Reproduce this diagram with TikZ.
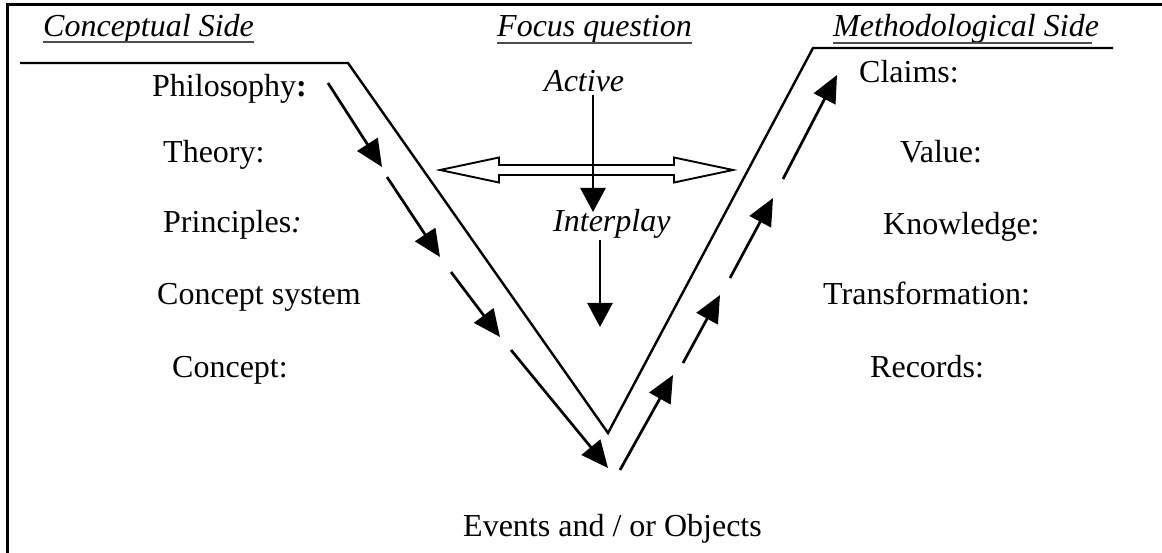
\documentclass[tikz,border=0pt]{standalone}
\usepackage{fontspec}
\setmainfont{Liberation Serif}
\usetikzlibrary{arrows.meta,calc}
\begin{document}
\begin{tikzpicture}[x=1pt,y=-1pt,
  lbl/.style={font=\fontsize{32}{38}\selectfont, inner sep=0pt, anchor=base west},
  ital/.style={lbl, font=\fontsize{32}{38}\selectfont\itshape},
  vline/.style={line width=2.4pt, line join=miter},
  darr/.style={line width=2.7pt, -{Triangle[length=27pt,width=24pt]}},
  varr/.style={line width=2.7pt, -{Triangle[length=24pt,width=25pt]}},
  uline/.style={line width=1.6pt, black!70},
  frameline/.style={line width=3pt},
  hollow/.style={line width=1.9pt, fill=white, line join=miter}
]
\useasboundingbox (0,0) rectangle (1162,553);

% frame (top and left edges)
\coordinate (ftl) at (7,5);
\coordinate (fbl) at (7,553);
\coordinate (ftr) at (1162,5);
\draw[frameline] (fbl) -- (ftl) -- (ftr);

% headings
\node[ital] (cs) at (43,37) {Conceptual Side};
\node[ital] (fq) at (497,37) {Focus question};
\node[ital] (ms) at (833,37) {Methodological Side};
\draw[uline] ($(cs.base west)+(0,5)$) -- ($(cs.base east)+(0,5)$);
\draw[uline] ($(fq.base west)+(0,6)$) -- ($(fq.base east)+(0,6)$);
\coordinate (msend) at (1092,43);
\draw[uline] ($(ms.base west)+(0,6)$) -- (msend);

% left column
\node[lbl] (phil) at (152,97) {Philosophy\textbf{:}};
\node[lbl] (theo) at (163,163) {Theory:};
\node[lbl] (prin) at (163,233) {Principles\textit{:}};
\node[lbl] (csys) at (157,305) {Concept system};
\node[lbl] (conc) at (172,377) {Concept:};

% right column
\node[lbl] (clai) at (859,83) {Claims:};
\node[lbl] (valu) at (900,163) {Value:};
\node[lbl] (know) at (883,235) {Knowledge:};
\node[lbl] (tran) at (823,305) {Transformation:};
\node[lbl] (reco) at (870,377) {Records:};

% centre
\node[ital] (acti) at (544,92) {Active};
\node[ital] (intp) at (553,232) {Interplay};
\node[lbl] (even) at (463,536) {Events and / or Objects};

% V shape
\coordinate (vl0) at (20,63);
\coordinate (vl1) at (348,63);
\coordinate (vb) at (608,433);
\coordinate (vr1) at (813,48);
\coordinate (vr0) at (1113,48);
\draw[vline] (vl0) -- (vl1) -- (vb) -- (vr1) -- (vr0);

% left dashed arrows (downward)
\coordinate (l1s) at (328,83);  \coordinate (l1e) at (382,167);
\coordinate (l2s) at (387,177); \coordinate (l2e) at (440,257);
\coordinate (l3s) at (451,272); \coordinate (l3e) at (500,337);
\coordinate (l4s) at (511,350); \coordinate (l4e) at (608,468);
\draw[darr] (l1s) -- (l1e);
\draw[darr] (l2s) -- (l2e);
\draw[darr] (l3s) -- (l3e);
\draw[darr] (l4s) -- (l4e);

% right dashed arrows (upward)
\coordinate (r1s) at (620,470); \coordinate (r1e) at (673,375);
\coordinate (r2s) at (683,363); \coordinate (r2e) at (720,295);
\coordinate (r3s) at (730,278); \coordinate (r3e) at (773,198);
\coordinate (r4s) at (783,179); \coordinate (r4e) at (837,75);
\draw[darr] (r1s) -- (r1e);
\draw[darr] (r2s) -- (r2e);
\draw[darr] (r3s) -- (r3e);
\draw[darr] (r4s) -- (r4e);

% hollow double arrow
\coordinate (dac) at (586.5,170);
\draw[hollow, shift={(dac)}]
  (-146.5,0) -- (-87.5,-12.5) -- (-87.5,-5) -- (87.5,-5) -- (87.5,-12.5)
  -- (146.5,0) -- (87.5,12.5) -- (87.5,5) -- (-87.5,5) -- (-87.5,12.5) -- cycle;

% vertical arrows
\coordinate (a1s) at (593,95);  \coordinate (a1e) at (593,212);
\coordinate (a2s) at (600,240); \coordinate (a2e) at (600,327);
\draw[varr] (a1s) -- (a1e);
\draw[varr] (a2s) -- (a2e);
\end{tikzpicture}
\end{document}
